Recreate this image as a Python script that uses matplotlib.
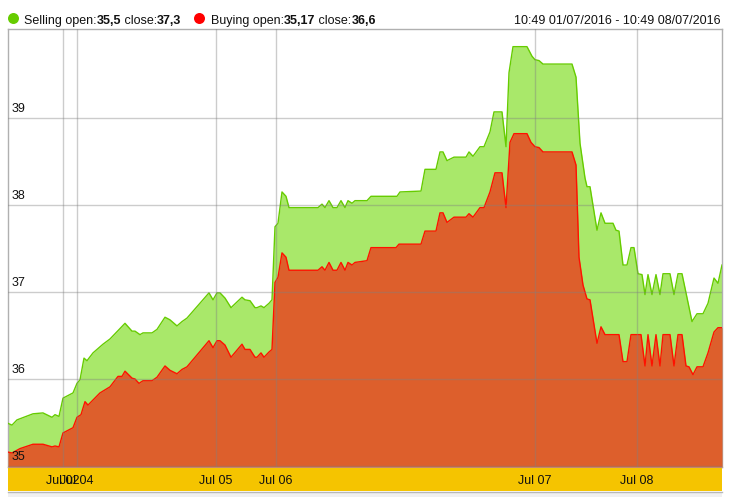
import matplotlib
matplotlib.use("Agg")
import matplotlib.pyplot as plt
from matplotlib.patches import Rectangle, Ellipse

# ---------------- data (sample index along the compressed time axis) ----------------
sell_t = [0, 4, 9, 25, 35, 44, 47, 51, 55, 65, 69, 72, 76, 79, 85, 95, 102, 117, 124, 127,
          132, 135, 144, 149, 157, 162, 169, 174, 179, 201, 205, 209, 212, 217, 223, 234, 237,
          242, 247, 249, 253, 256, 261, 264, 267, 270, 274, 278, 281, 310, 314, 317, 321, 325,
          329, 333, 337, 340, 344, 347, 359, 363, 389, 392, 413, 417, 428, 432, 435, 439, 446,
          458, 461, 465, 472, 476, 482, 486, 494, 498, 501, 505, 519, 524, 527, 531, 535, 564,
          568, 572, 577, 579, 582, 589, 593, 597, 605, 608, 611, 615, 619, 623, 626, 630, 634,
          637, 640, 644, 648, 652, 655, 662, 666, 670, 674, 684, 689, 695, 700, 706, 710, 714]
sell_v = [35.49, 35.47, 35.53, 35.60, 35.61, 35.56, 35.59, 35.57, 35.78, 35.84, 35.95, 35.99,
          36.24, 36.21, 36.30, 36.40, 36.46, 36.64, 36.55, 36.55, 36.51, 36.53, 36.53, 36.57,
          36.71, 36.68, 36.61, 36.66, 36.70, 36.99, 36.91, 36.99, 36.99, 36.93, 36.82, 36.94,
          36.91, 36.90, 36.82, 36.82, 36.84, 36.82, 36.87, 36.91, 37.75, 37.79, 38.15, 38.10,
          37.97, 37.97, 38.01, 37.97, 38.05, 37.97, 37.97, 38.05, 37.97, 38.05, 38.02, 38.05,
          38.05, 38.10, 38.10, 38.15, 38.16, 38.41, 38.41, 38.61, 38.61, 38.51, 38.55, 38.55,
          38.61, 38.56, 38.67, 38.67, 38.84, 39.07, 39.07, 38.67, 39.52, 39.82, 39.82, 39.71,
          39.67, 39.66, 39.62, 39.62, 39.47, 38.71, 38.31, 38.21, 38.21, 37.71, 37.91, 37.79,
          37.79, 37.71, 37.70, 37.31, 37.31, 37.51, 37.51, 37.21, 37.20, 36.97, 37.20, 36.97,
          37.20, 36.97, 37.21, 37.21, 36.97, 37.21, 37.21, 36.66, 36.75, 36.75, 36.87, 37.16,
          37.10, 37.31]

buy_t = [0, 4, 12, 25, 35, 44, 47, 51, 55, 65, 69, 73, 77, 80, 92, 102, 110, 114, 117, 124,
         127, 131, 135, 144, 149, 157, 162, 169, 174, 179, 201, 205, 209, 212, 217, 223, 234,
         237, 242, 247, 249, 253, 256, 261, 264, 267, 270, 274, 278, 281, 310, 314, 317, 321,
         325, 329, 333, 337, 340, 344, 347, 359, 363, 388, 391, 413, 417, 428, 432, 435, 439,
         446, 458, 461, 465, 472, 476, 482, 487, 494, 498, 502, 506, 519, 523, 527, 531, 535,
         564, 568, 571, 575, 579, 582, 589, 593, 597, 611, 615, 619, 623, 633, 637, 640, 644,
         648, 652, 655, 662, 666, 670, 674, 678, 681, 685, 689, 695, 700, 706, 710, 714]
buy_v = [35.16, 35.15, 35.20, 35.25, 35.25, 35.22, 35.23, 35.22, 35.38, 35.44, 35.56, 35.59,
         35.74, 35.70, 35.84, 35.91, 36.03, 36.03, 36.09, 36.01, 36.00, 35.95, 35.98, 35.98,
         36.02, 36.15, 36.10, 36.06, 36.11, 36.14, 36.44, 36.36, 36.44, 36.44, 36.39, 36.25,
         36.40, 36.34, 36.34, 36.25, 36.25, 36.30, 36.25, 36.31, 36.34, 37.11, 37.17, 37.45,
         37.40, 37.25, 37.25, 37.29, 37.25, 37.34, 37.25, 37.25, 37.34, 37.25, 37.34, 37.31,
         37.34, 37.36, 37.51, 37.51, 37.55, 37.55, 37.70, 37.70, 37.91, 37.91, 37.80, 37.86,
         37.86, 37.90, 37.86, 37.97, 37.97, 38.15, 38.37, 38.37, 37.97, 38.72, 38.82, 38.82,
         38.72, 38.67, 38.66, 38.61, 38.61, 38.46, 37.40, 37.08, 36.92, 36.91, 36.41, 36.60,
         36.51, 36.51, 36.20, 36.20, 36.51, 36.51, 36.15, 36.51, 36.15, 36.51, 36.15, 36.51,
         36.51, 36.15, 36.51, 36.51, 36.15, 36.14, 36.05, 36.14, 36.14, 36.30, 36.54, 36.59,
         36.59]

y_ticks = [35, 36, 37, 38, 39]
x_tick_pos = [55, 69, 208, 268, 527, 629]
x_tick_labels = ["Jul 02", "Jul 04", "Jul 05", "Jul 06", "Jul 07", "Jul 08"]

legend_sell = [("Selling open:", "normal"), ("35,5", "bold"), (" close:", "normal"), ("37,3", "bold")]
legend_buy = [("Buying open:", "normal"), ("35,17", "bold"), (" close:", "normal"), ("36,6", "bold")]
range_text = "10:49 01/07/2016 - 10:49 08/07/2016"

# ---------------- styling ----------------
FONT = "Liberation Sans"
W, H = 730, 497
fig = plt.figure(figsize=(W / 100, H / 100), dpi=100)
fig.patch.set_facecolor("white")

def fx(px):
    return px / W

def fy(py):
    return 1 - py / H

ax_left, ax_right, ax_top, ax_bottom = 8, 722, 29, 467
ax = fig.add_axes([fx(ax_left), fy(ax_bottom), (ax_right - ax_left) / W, (ax_bottom - ax_top) / H])
ymin, ymax = 34.9885, 40.023
ax.set_xlim(0, 714)
ax.set_ylim(ymin, ymax)
ax.set_xticks([])
ax.set_yticks([])
for s in ax.spines.values():
    s.set_color("#b0b0b0")
    s.set_linewidth(1)

ax.fill_between(sell_t, sell_v, ymin, color="#a9e86a", lw=0, zorder=2)
ax.plot(sell_t, sell_v, color="#66cc00", lw=1.0, zorder=3)
ax.fill_between(buy_t, buy_v, ymin, color="#dd5f2c", lw=0, zorder=4)
ax.plot(buy_t, buy_v, color="#ff1100", lw=1.0, zorder=5)

for yv in y_ticks:
    ax.axhline(yv, color="#808080", alpha=0.4, lw=1, zorder=6)
    ax.annotate(str(yv), xy=(0, yv), xycoords=("axes fraction", "data"),
                xytext=(4, 3), textcoords="offset pixels", fontsize=9, family=FONT,
                color="#111111", va="bottom", ha="left", zorder=7)
for xv in x_tick_pos:
    ax.axvline(xv, color="#808080", alpha=0.4, lw=1, zorder=6)

# yellow date band
band = Rectangle((fx(ax_left), fy(491)), (ax_right - ax_left) / W, (491 - 468) / H,
                 transform=fig.transFigure, facecolor="#f5c400", edgecolor="none")
fig.add_artist(band)
bottom = Rectangle((fx(ax_left), 0), (ax_right - ax_left) / W, fy(492),
                   transform=fig.transFigure, facecolor="#f0f0f0", edgecolor="none")
fig.add_artist(bottom)
fig.add_artist(plt.Line2D([fx(ax_left), fx(ax_right)], [fy(492), fy(492)],
                          transform=fig.transFigure, color="#b8b8b8", lw=1))
for xv, lab in zip(x_tick_pos, x_tick_labels):
    xd = ax.transData.transform((xv, ymin))[0]
    fig.text(xd / W, fy(481), lab, ha="center", va="center", fontsize=9, family=FONT, color="#111111")

# legend
fig.canvas.draw()
renderer = fig.canvas.get_renderer()

def chain(x, y, pieces):
    for s, w in pieces:
        t = fig.text(fx(x), fy(y), s, fontweight=w, fontsize=9, family=FONT,
                     color="#111111", va="baseline", ha="left")
        x += t.get_window_extent(renderer).width
    return x

fig.add_artist(Ellipse((fx(13.5), fy(18.5)), 11 / W, 11 / H, transform=fig.transFigure,
                       facecolor="#66cc00", edgecolor="none"))
chain(24, 24, legend_sell)
fig.add_artist(Ellipse((fx(199.5), fy(18.5)), 11 / W, 11 / H, transform=fig.transFigure,
                       facecolor="#ff0000", edgecolor="none"))
chain(211, 24, legend_buy)
fig.text(fx(721), fy(24), range_text, ha="right", va="baseline", fontsize=9, family=FONT,
         color="#111111")

fig.savefig("out.png", dpi=100)
